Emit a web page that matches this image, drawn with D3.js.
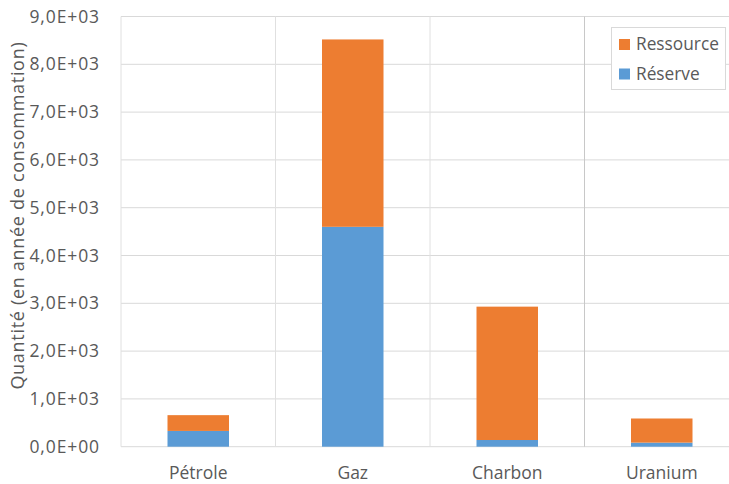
<!DOCTYPE html>
<html><head><meta charset="utf-8">
<script src="https://cdn.jsdelivr.net/npm/d3@7"></script>
<style>body{margin:0;background:#fff}svg{display:block}</style>
</head><body>
<script>
const categories = ["Pétrole", "Gaz", "Charbon", "Uranium"];
const reserve = [330, 4600, 140, 85];
const ressource = [330, 3920, 2790, 505];
const seriesNames = ["Réserve", "Ressource"];
const yTicks = [0, 1000, 2000, 3000, 4000, 5000, 6000, 7000, 8000, 9000];
const yTitle = "Quantité (en année de consommation)";

const W = 729, H = 484;
const m = {left: 121, top: 16.5, right: -10, bottom: 37.3};
const svg = d3.select("body").append("svg").attr("width", W).attr("height", H);
const font = "'Open Sans', 'Liberation Sans', sans-serif";
const x = d3.scaleBand().domain(categories).range([m.left, W - m.right]).paddingInner(0).paddingOuter(0);
const y = d3.scaleLinear().domain([0, 9000]).range([H - m.bottom, m.top]);

const fmt = v => (v === 0 ? "0,0E+00" : (v/1000).toFixed(1).replace(".", ",") + "E+03");

// horizontal gridlines
svg.append("g").selectAll("line").data(yTicks).join("line")
  .attr("x1", m.left).attr("x2", W).attr("y1", d => y(d)).attr("y2", d => y(d))
  .attr("stroke", "#d9d9d9").attr("stroke-width", 1);
// vertical separators
const seps = [m.left].concat(categories.slice(1).map(c => x(c)));
svg.append("g").selectAll("line").data(seps).join("line")
  .attr("x1", d => d).attr("x2", d => d).attr("y1", m.top).attr("y2", y(0))
  .attr("stroke", (d,i) => i === 3 ? "#c8c8c8" : "#e0e0e0").attr("stroke-width", 1);

// y axis labels
const yAxis = d3.axisLeft(y).tickValues(yTicks).tickFormat(fmt).tickSize(0).tickPadding(21);
const ga = svg.append("g").attr("transform", `translate(${m.left},0)`).call(yAxis);
ga.select(".domain").remove();
ga.selectAll("text").attr("font-family", font).attr("font-size", 17.5).attr("letter-spacing", 0.9).attr("fill", "#595959");

// x axis labels
const xAxis = d3.axisBottom(x).tickSize(0).tickPadding(20);
const gx = svg.append("g").attr("transform", `translate(0,${y(0)})`).call(xAxis);
gx.select(".domain").remove();
gx.selectAll("text").attr("font-family", font).attr("font-size", 17.5).attr("fill", "#595959");

// stacked bars
const data = categories.map((c,i) => ({cat: c, "Réserve": reserve[i], "Ressource": ressource[i]}));
const stack = d3.stack().keys(seriesNames)(data);
const colors = {"Réserve": "#5B9BD5", "Ressource": "#ED7D31"};
const bw = 61.5;
svg.append("g").selectAll("g").data(stack).join("g")
  .attr("fill", d => colors[d.key])
  .selectAll("rect").data(d => d).join("rect")
  .attr("x", d => x(d.data.cat) + x.bandwidth()/2 - bw/2)
  .attr("width", bw)
  .attr("y", d => y(d[1]))
  .attr("height", d => y(d[0]) - y(d[1]));

// y title
svg.append("text").attr("transform", `translate(24,${(m.top + y(0))/2 - 16}) rotate(-90)`)
  .attr("text-anchor", "middle").attr("font-family", font).attr("font-size", 18)
  .attr("letter-spacing", 0.7)
  .attr("fill", "#595959").text(yTitle);

// legend
const lg = svg.append("g");
lg.append("rect").attr("x", 611.5).attr("y", 27.5).attr("width", 114).attr("height", 62)
  .attr("fill", "#fff").attr("stroke", "#d9d9d9");
const legendItems = ["Ressource", "Réserve"];
legendItems.forEach((k, i) => {
  lg.append("rect").attr("x", 619).attr("y", 39 + i*29.5).attr("width", 11).attr("height", 11).attr("fill", colors[k]);
  lg.append("text").attr("x", 636).attr("y", 50 + i*29.5).attr("font-family", font).attr("font-size", 17.3)
    .attr("fill", "#595959").text(k);
});
</script>
</body></html>
